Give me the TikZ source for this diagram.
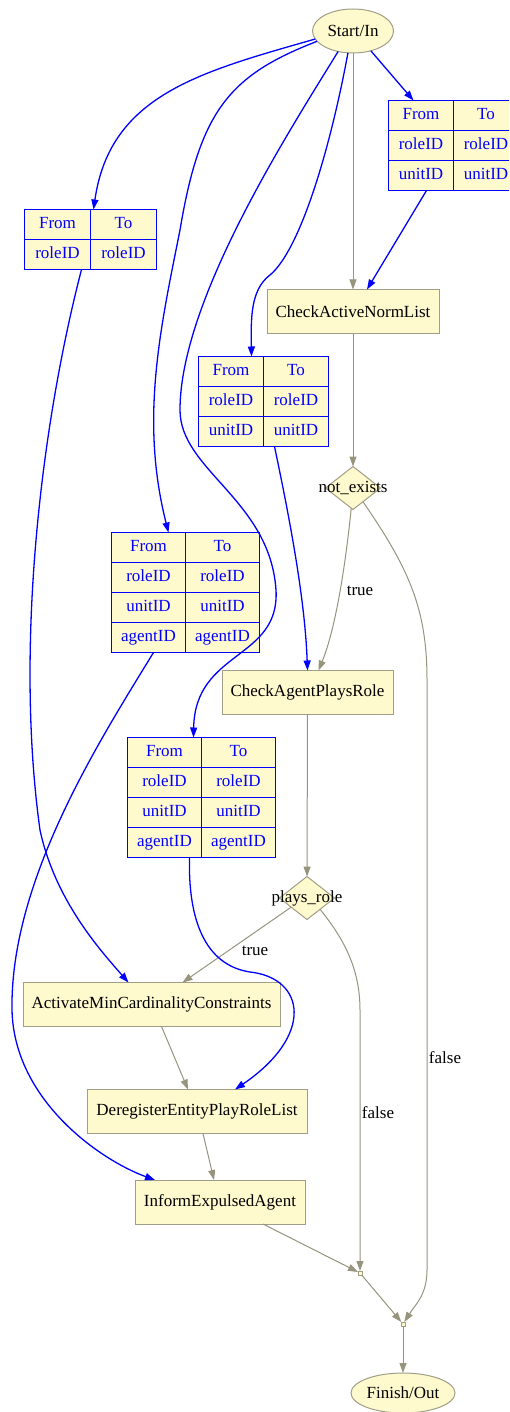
\documentclass[tikz,border=0pt]{standalone}
\usepackage{fontspec}
\setmainfont{Liberation Serif}
\usetikzlibrary{arrows.meta,shapes.geometric,matrix}
\definecolor{boxfill}{RGB}{255,249,206}
\definecolor{boxline}{RGB}{160,158,135}
\definecolor{flowgray}{RGB}{150,148,125}

\begin{document}
\begin{tikzpicture}[x=1pt,y=-1pt,font=\fontsize{17}{20}\selectfont,
  every node/.style={inner sep=0pt,outer sep=0pt},
  task/.style={draw=boxline,fill=boxfill,rectangle,minimum height=44,line width=1pt},
  term/.style={draw=boxline,fill=boxfill,ellipse,line width=1pt},
  test/.style={draw=boxline,fill=boxfill,diamond,minimum width=55,minimum height=43,line width=1pt},
  junct/.style={draw=boxline,fill=boxfill,rectangle,minimum size=4,line width=0.6pt},
  cellbox/.style={fill=boxfill,text=blue,minimum height=30,
    text height=12,text depth=4,anchor=center},
  maptab/.style={matrix of nodes,anchor=north west,column sep=0pt,row sep=0pt,
    nodes={cellbox}},
  grid/.style={draw=blue,line width=1.3pt},
  flow/.style={draw=flowgray,line width=1pt,-{Triangle[length=10pt,width=7pt]}},
  bind/.style={draw=blue,line width=1.3pt,-{Triangle[length=10pt,width=7pt]}},
  lbl/.style={text=black}]
\useasboundingbox (0,0) rectangle (509,1412);
\clip (0,0) rectangle (509,1412);

\draw (353, 31) node[term,minimum width=81,minimum height=44](start) {Start/In};
\draw (353, 311.5) node[task,minimum width=172](checkNorm) {CheckActiveNormList};
\draw (353, 488) node[test,label={center:not\_exists}](notExists) {};
\draw (307.5, 692.5) node[task,minimum width=171](checkAgent) {CheckAgentPlaysRole};
\draw (307, 898) node[test,label={center:plays\_role}](playsRole) {};
\draw (151.5, 1004.5) node[task,minimum width=257](activate) {ActivateMinCardinalityConstraints};
\draw (197, 1111.5) node[task,minimum width=220](dereg) {DeregisterEntityPlayRoleList};
\draw (220, 1202) node[task,minimum width=170](inform) {InformExpulsedAgent};
\draw (360, 1273) node[junct](join1) {};
\draw (403, 1324) node[junct](join2) {};
\draw (403, 1393) node[term,minimum width=104,minimum height=40](finish) {Finish/Out};

\matrix (tabTR) [maptab,nodes={minimum width=65}] at (388.5, 100.5) {
From & To \\
roleID & roleID \\
unitID & unitID \\
};
\matrix (tabL) [maptab,nodes={minimum width=66}] at (24.5, 209.5) {
From & To \\
roleID & roleID \\
};
\matrix (tabM) [maptab,nodes={minimum width=65}] at (198.5, 356.5) {
From & To \\
roleID & roleID \\
unitID & unitID \\
};
\matrix (tabA) [maptab,nodes={minimum width=74}] at (111.5, 532.5) {
From & To \\
roleID & roleID \\
unitID & unitID \\
agentID & agentID \\
};
\matrix (tabB) [maptab,nodes={minimum width=74}] at (127.5, 737.5) {
From & To \\
roleID & roleID \\
unitID & unitID \\
agentID & agentID \\
};
\foreach \tab/\rows in {tabTR/3,tabL/2,tabM/3,tabA/4,tabB/4} {
  \draw[grid] (\tab.north west) rectangle (\tab.south east);
  \draw[grid] (\tab-1-1.north east) -- (\tab-\rows-1.south east);
  \foreach \r in {2,...,\rows}
    \draw[grid] (\tab-\r-1.north west) -- (\tab-\r-2.north east);
}

\draw (360, 591) node[lbl](trueA) {true};
\draw (445, 1058) node[lbl](falseA) {false};
\draw (255, 951) node[lbl](trueB) {true};
\draw (378, 1113) node[lbl](falseB) {false};

\draw[flow] (start) -- (checkNorm);
\draw[flow] (checkNorm) -- (notExists);
\draw[flow] (notExists.-95) .. controls (345,570) and (335,630) .. ([xshift=11pt]checkAgent.north);
\draw[flow] (notExists.-54) .. controls (410,570) and (427,610) .. (427,680) -- (427,1270) .. controls (427,1295) and (415,1305) .. (join2);
\draw[flow] (checkAgent) -- (playsRole);
\draw[flow] (playsRole.-150) -- ([xshift=31pt]activate.north);
\draw[flow] (playsRole.-41) .. controls (345,940) and (360,970) .. (360,1010) -- (join1);
\draw[flow] ([xshift=10pt]activate.south) -- ([xshift=-9pt]dereg.north);
\draw[flow] ([xshift=6pt]dereg.south) -- ([xshift=-6pt]inform.north);
\draw[flow] ([xshift=43pt]inform.south) -- (join1);
\draw[flow] (join1) -- (join2);
\draw[flow] (join2) -- (finish);

\draw[bind] (start.-48) -- ([xshift=25pt]tabTR-1-1.north west);
\draw[bind] ([xshift=38pt]tabTR-3-1.south west) -- ([xshift=14pt]checkNorm.north);
\draw[bind] (start.192) .. controls (200,72) and (110,95) .. ([xshift=3pt]tabL-1-2.north west);
\draw[bind] (start.196) .. controls (230,75) and (200,110) .. (180,230) .. controls (160,330) and (140,420) .. ([xshift=-17pt]tabA-1-1.north east);
\draw[bind] (start.234) .. controls (290,130) and (180,300) .. (180,410) .. controls (180,470) and (270,500) .. (276,590) .. controls (280,660) and (195,650) .. ([xshift=-8pt]tabB-1-1.north east);
\draw[bind] (start.257) .. controls (330,150) and (300,250) .. (270,275) .. controls (250,290) and (251,320) .. ([xshift=-12pt]tabM-1-1.north east);
\draw[bind] ([xshift=11pt]tabM-3-1.south east) .. controls (290,520) and (305,600) .. (checkAgent.north);
\draw[bind] ([xshift=-9pt]tabL-2-1.south east) .. controls (40,430) and (15,650) .. (40,830) .. controls (55,900) and (100,950) .. ([xshift=-23pt]activate.north);
\draw[bind] ([xshift=-32pt]tabA-4-1.south east) .. controls (100,740) and (10,880) .. (12,1010) .. controls (14,1100) and (100,1160) .. ([xshift=-65pt]inform.north);
\draw[bind] ([xshift=-12pt]tabB-4-1.south east) .. controls (188,920) and (205,965) .. (250,972) .. controls (305,978) and (315,1035) .. ([xshift=38pt]dereg.north);
\end{tikzpicture}
\end{document}
